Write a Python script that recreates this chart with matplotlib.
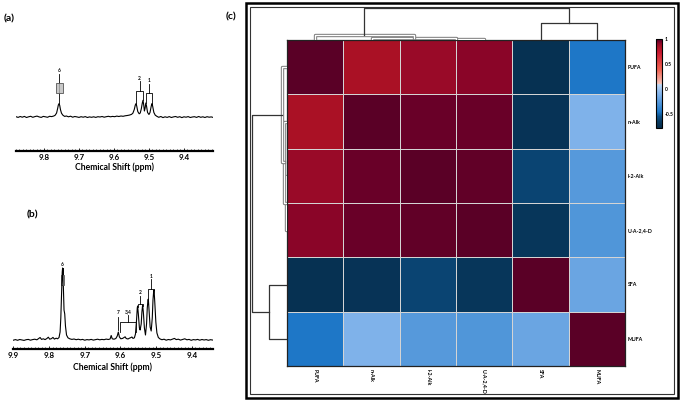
import matplotlib
matplotlib.use('Agg')
import matplotlib.pyplot as plt
from matplotlib.colors import LinearSegmentedColormap, Normalize
from matplotlib.patches import Rectangle
from matplotlib.ticker import MultipleLocator
import matplotlib.patheffects as pe

plt.rcParams['font.family'] = ['Lato', 'DejaVu Sans']

# ---------------- data ----------------
# Spectrum (a): chemical shift (ppm) and intensity (arbitrary units, px above baseline)
ppm_a = [9.880, 9.874, 9.868, 9.862, 9.856, 9.850, 9.844, 9.838, 9.832, 9.826, 9.820, 9.814,
         9.808, 9.802, 9.796, 9.790, 9.784, 9.778, 9.772,
         9.768, 9.764, 9.761, 9.759, 9.757, 9.755, 9.753, 9.750, 9.746, 9.741,
         9.736, 9.730, 9.724, 9.718, 9.712, 9.706, 9.700, 9.694, 9.688, 9.682, 9.676, 9.670,
         9.664, 9.658, 9.652, 9.646, 9.640, 9.634, 9.628, 9.622, 9.616, 9.610, 9.604, 9.598,
         9.592, 9.586, 9.580, 9.574, 9.568, 9.562,
         9.556, 9.550, 9.546, 9.542, 9.539, 9.537, 9.535, 9.532, 9.528, 9.525, 9.522, 9.519,
         9.517, 9.515, 9.513, 9.511, 9.509, 9.507, 9.504, 9.500, 9.497, 9.494, 9.492, 9.491,
         9.489, 9.486, 9.482, 9.477,
         9.472, 9.466, 9.460, 9.454, 9.448, 9.442, 9.436, 9.430, 9.424, 9.418, 9.412, 9.406,
         9.400, 9.394, 9.388, 9.382, 9.376, 9.370, 9.364, 9.358, 9.352, 9.346, 9.340, 9.334,
         9.328, 9.322, 9.317]
int_a = [0.3, -0.4, 0.5, -0.2, 0.6, -0.5, 0.2, 0.7, -0.3, 0.4, 0.9, 0.1,
         -0.4, 0.6, 0.2, -0.3, 0.7, 0.4, 1.0,
         1.8, 4.0, 8.5, 12.0, 13.4, 11.5, 7.5, 3.8, 1.8, 0.6,
         1.0, 0.2, 0.8, -0.2, 0.5, 0.1, -0.4, 0.3, -0.2, 0.4, -0.5, 0.1,
         -0.3, 0.2, -0.4, 0.3, 0.0, 0.5, -0.2, 0.3, 0.7, 0.2, 0.6, 0.3,
         0.9, 0.5, 1.0, 0.7, 1.2, 1.5,
         1.9, 2.6, 3.8, 7.5, 12.0, 13.4, 11.0, 5.5, 3.2, 4.0, 8.0, 14.0,
         16.7, 12.0, 6.0, 9.0, 14.0, 11.0, 4.5, 2.5, 4.5, 10.0, 13.0, 13.4,
         10.0, 4.5, 1.8, 0.6,
         -0.3, 0.5, -0.6, 0.2, -0.4, 0.4, -0.5, 0.1, 0.5, -0.3, 0.3, -0.6,
         0.2, -0.2, 0.4, -0.5, 0.0, 0.3, -0.4, 0.5, -0.3, 0.2, -0.5, 0.3,
         -0.2, 0.1, -0.4]

# Spectrum (b)
ppm_b = [9.900, 9.894, 9.888, 9.882, 9.876, 9.870, 9.864, 9.858, 9.852, 9.846, 9.840, 9.834,
         9.829, 9.825, 9.821, 9.816, 9.811, 9.806, 9.802, 9.798, 9.793, 9.789, 9.785, 9.780,
         9.776,
         9.772, 9.769, 9.767, 9.765, 9.763, 9.762, 9.760, 9.758, 9.756, 9.754, 9.751, 9.747,
         9.742,
         9.736, 9.730, 9.724, 9.718, 9.712, 9.706, 9.700, 9.694, 9.688, 9.682, 9.676, 9.670,
         9.664, 9.658, 9.652, 9.646, 9.640, 9.634, 9.629,
         9.626, 9.623, 9.618, 9.613, 9.609, 9.606, 9.603, 9.599, 9.594, 9.590, 9.587, 9.584,
         9.579, 9.575, 9.571, 9.568, 9.565, 9.561,
         9.558, 9.555, 9.553, 9.552, 9.550, 9.547, 9.545, 9.542, 9.540, 9.538, 9.536, 9.533,
         9.530, 9.527, 9.525, 9.523, 9.522, 9.520, 9.517, 9.514, 9.511, 9.509, 9.507, 9.506,
         9.504, 9.501, 9.498, 9.494, 9.489,
         9.484, 9.478, 9.472, 9.466, 9.460, 9.454, 9.449, 9.444, 9.438, 9.432, 9.426, 9.420,
         9.414, 9.408, 9.402, 9.396, 9.390, 9.384, 9.378, 9.372, 9.366, 9.360, 9.354, 9.348,
         9.341]
int_b = [-0.2, 0.4, -0.3, 0.5, 0.1, -0.4, 0.3, 0.6, -0.2, 0.4, 0.8, 0.2,
         1.5, 2.5, 0.6, 1.2, 0.4, 1.5, 2.8, 0.8, 1.4, 2.6, 0.9, 1.8,
         1.2,
         2.5, 8.0, 22.0, 45.0, 68.0, 72.0, 55.0, 30.0, 26.0, 14.0, 5.0, 2.2,
         1.2,
         0.6, 1.0, 0.3, 0.8, 0.2, 0.6, -0.2, 0.4, 0.1, 0.6, -0.1, 0.4,
         0.8, 0.2, 0.6, 0.3, 0.9, 0.5, 1.0,
         4.5, 1.2, 0.8, 1.5, 4.0, 8.0, 3.0, 1.2, 1.6, 2.5, 3.2, 1.5,
         1.0, 1.8, 2.4, 3.0, 1.6, 2.2,
         6.0, 20.0, 32.0, 34.0, 26.0, 12.0, 10.0, 16.0, 28.0, 35.0, 28.0, 12.0,
         5.0, 16.0, 32.0, 40.0, 41.0, 30.0, 13.0, 9.0, 22.0, 40.0, 49.0, 50.0,
         38.0, 18.0, 7.0, 2.5, 1.0,
         0.3, 0.8, -0.2, 0.5, 0.1, 0.9, 1.6, 0.4, 0.8, -0.1, 0.5, 1.2,
         0.2, 0.6, -0.3, 0.4, 0.1, 0.6, -0.2, 0.5, 0.0, 0.4, -0.3, 0.3,
         -0.1]

# Peak assignments: (label, ppm left, ppm right, bracket height, label height)
peaks_a = [("2", 9.537, 9.517, 26.0, 39.0),
           ("1", 9.509, 9.491, 24.0, 36.0)]
peaks_b = [("2", 9.552, 9.538, 36.0, 47.0),
           ("1", 9.522, 9.506, 51.0, 64.0),
           ("3,4", 9.601, 9.557, 17.7, 28.0)]
# boxed single peaks: (label, ppm, box bottom, box top, label height, box half width)
box_a = ("6", 9.757, 24.0, 34.0, 46.0, 0.010)
box_b = ("6", 9.762, 55.0, 65.0, 75.0, 0.0035)
stick_b = ("7", 9.606, 10.0, 23.0, 27.0)

ticks_a = [9.8, 9.7, 9.6, 9.5, 9.4]
ticks_b = [9.9, 9.8, 9.7, 9.6, 9.5, 9.4]

# Correlation heatmap (clustered order)
labels = ["PUFA", "n-Alk", "I-2-Alk", "U-A-2,4-D", "SFA", "MUFA"]
corr = [[1.00, 0.85, 0.90, 0.93, -0.72, -0.45],
        [0.85, 1.00, 0.97, 0.97, -0.70, -0.10],
        [0.90, 0.97, 1.00, 0.98, -0.60, -0.25],
        [0.93, 0.97, 0.98, 1.00, -0.68, -0.27],
        [-0.72, -0.70, -0.60, -0.68, 1.00, -0.18],
        [-0.45, -0.10, -0.25, -0.27, -0.18, 1.00]]
cbar_ticks = [1, 0.5, 0, -0.5]
vmin, vmax = -0.78, 1.0

# linkage: (node a, node b, height); leaves 0..5, new clusters 6..
col_merges = [(2, 3, 1.2), (1, 6, 1.8), (0, 7, 5.0), (4, 5, 17.0), (8, 9, 32.0)]
row_merges = [(2, 3, 1.5), (1, 6, 2.7), (0, 7, 4.7), (4, 5, 18.0), (8, 9, 35.0)]

# ---------------- figure ----------------
W, H = 685, 401
fig = plt.figure(figsize=(W / 100, H / 100), dpi=100)
fig.patch.set_facecolor('white')


def ax_px(x0, y0, x1, y1):
    return fig.add_axes([x0 / W, 1 - y1 / H, (x1 - x0) / W, (y1 - y0) / H])


def ftext(x, y, s, **kw):
    fig.text(x / W, 1 - y / H, s, **kw)


def spectrum(ax, ppm, inten, xlim, ylim, ticks):
    ax.plot(ppm, inten, color='black', lw=0.8)
    ax.set_xlim(*xlim)
    ax.set_ylim(*ylim)
    for s in ['top', 'right', 'left']:
        ax.spines[s].set_visible(False)
    ax.spines['bottom'].set_linewidth(1.6)
    ax.set_yticks([])
    ax.set_xticks(ticks)
    ax.set_xticklabels([f"{t:.1f}" for t in ticks], fontsize=5.8, fontweight='bold')
    ax.xaxis.set_minor_locator(MultipleLocator(0.01))
    ax.tick_params(axis='x', which='major', direction='in', length=2.5, width=0.6, pad=2)
    ax.tick_params(axis='x', which='minor', direction='in', length=1.3, width=0.5)
    ax.patch.set_alpha(0)


def brackets(ax, items, tops):
    for (lab, xl, xr, hb, hl), (tl, tr) in zip(items, tops):
        ax.plot([xl, xl, xr, xr], [tl, hb, hb, tr], color='black', lw=0.6)
        xm = (xl + xr) / 2
        ax.plot([xm, xm], [hb, hl - 3], color='black', lw=0.6)
        ax.text(xm, hl, lab, ha='center', va='center', fontsize=3.5, fontweight='bold')


def boxed(ax, item, peak_top):
    lab, x, b0, b1, hl, hw = item
    ax.plot([x, x], [peak_top, b0], color='black', lw=0.6)
    ax.plot([x, x], [b1, hl - 3], color='black', lw=0.6)
    ax.add_patch(Rectangle((x - hw, b0), 2 * hw, b1 - b0, facecolor='#c8c8c8',
                           edgecolor='#555555', lw=0.6))
    ax.plot([x, x], [b0, b1], color='#888888', lw=0.5)
    ax.text(x, hl, lab, ha='center', va='center', fontsize=3.5, fontweight='bold')


# panel (a)
axa = ax_px(16, 60, 213, 151)
spectrum(axa, ppm_a, int_a, (9.88, 9.317), (-34, 57), ticks_a)
brackets(axa, peaks_a, [(13.4, 16.7), (14.0, 13.4)])
boxed(axa, box_a, 13.4)
ftext(114.5, 167, "Chemical Shift (ppm)", ha='center', va='center', fontsize=6.2, fontweight='bold')
ftext(9, 18.5, "(a)", ha='center', va='center', fontsize=7.5, fontweight='bold')

# panel (b)
axb = ax_px(13.3, 250, 213, 349)
spectrum(axb, ppm_b, int_b, (9.9, 9.341), (-9, 90), ticks_b)
brackets(axb, peaks_b, [(33.0, 34.0), (41.0, 50.0), (8.0, 8.0)])
boxed(axb, box_b, 72.0)
lab7, x7, s0, s1, h7 = stick_b
axb.plot([x7, x7], [s0, s1], color='black', lw=0.6)
axb.text(x7, h7, lab7, ha='center', va='center', fontsize=3.5, fontweight='bold')
ftext(113, 367, "Chemical Shift (ppm)", ha='center', va='center', fontsize=6.2, fontweight='bold')
ftext(32.5, 215, "(b)", ha='center', va='center', fontsize=7.5, fontweight='bold')

# panel (c) frame
fig.add_artist(Rectangle((246 / W, 1 - 398 / H), (678 - 246) / W, (398 - 2.5) / H,
                         transform=fig.transFigure, fill=False, lw=1.8, ec='black'))
fig.add_artist(Rectangle((250 / W, 1 - 393.5 / H), (674 - 250) / W, (393.5 - 6.5) / H,
                         transform=fig.transFigure, fill=False, lw=0.8, ec='#333333'))
ftext(231, 17, "(c)", ha='center', va='center', fontsize=7.5, fontweight='bold')

# colormap
stops_v = [-0.78, -0.65, -0.55, -0.45, -0.10, 0.09, 0.11, 0.40, 0.75, 0.85, 0.90, 0.93, 0.97, 1.00]
stops_c = ['#052a48', '#083a60', '#0c5088', '#1e78c8', '#80b2ea', '#bcd6f4', '#f6c4b8',
           '#f06050', '#c81830', '#ab1225', '#9a0a28', '#8a0528', '#6a0028', '#5a0026']
cmap = LinearSegmentedColormap.from_list(
    'corr', list(zip([(v - vmin) / (vmax - vmin) for v in stops_v], stops_c)))
norm = Normalize(vmin=vmin, vmax=vmax)

axh = ax_px(287, 40, 625, 366)
mesh = axh.pcolormesh(corr, cmap=cmap, norm=norm, edgecolors='#d4d4d4', linewidth=0.7)
axh.set_xlim(0, 6)
axh.set_ylim(6, 0)
axh.set_xticks([i + 0.5 for i in range(6)])
axh.set_yticks([i + 0.5 for i in range(6)])
axh.set_xticklabels(labels, rotation=270, fontsize=3.8, fontweight='bold')
axh.set_yticklabels(labels, fontsize=3.8, fontweight='bold')
axh.yaxis.tick_right()
axh.tick_params(length=0, pad=2)
for s in axh.spines.values():
    s.set_linewidth(0.9)
    s.set_color('#222222')


def dendro(ax, merges, vertical):
    pos = {i: i + 0.5 for i in range(6)}
    hgt = {i: 0.0 for i in range(6)}
    nid = 6
    for a, b, h in merges:
        xa, xb = pos[a], pos[b]
        xs = [xa, xa, xb, xb]
        ys = [hgt[a], h, h, hgt[b]]
        if h < 6:
            kw = dict(color='white', lw=1.0,
                      path_effects=[pe.Stroke(linewidth=2.4, foreground='#777777'), pe.Normal()])
        else:
            kw = dict(color='#333333', lw=0.9)
        if vertical:
            ax.plot(xs, ys, **kw)
        else:
            ax.plot(ys, xs, **kw)
        pos[nid] = (xa + xb) / 2
        hgt[nid] = h
        nid += 1
    ax.axis('off')


axt = ax_px(287, 4, 625, 40)
dendro(axt, col_merges, True)
axt.set_xlim(0, 6)
axt.set_ylim(0, 36)

axl = ax_px(248, 40, 287, 366)
dendro(axl, row_merges, False)
axl.set_xlim(39, 0)
axl.set_ylim(6, 0)

cax = ax_px(656, 39.3, 662.3, 128.3)
cb = fig.colorbar(mesh, cax=cax)
cb.set_ticks(cbar_ticks)
cb.set_ticklabels([f"{t:g}" for t in cbar_ticks])
cb.ax.tick_params(length=0, pad=1.5, labelsize=3.6)
for t in cb.ax.get_yticklabels():
    t.set_fontweight('bold')
cb.outline.set_linewidth(0.8)

fig.savefig('out.png', dpi=100)
